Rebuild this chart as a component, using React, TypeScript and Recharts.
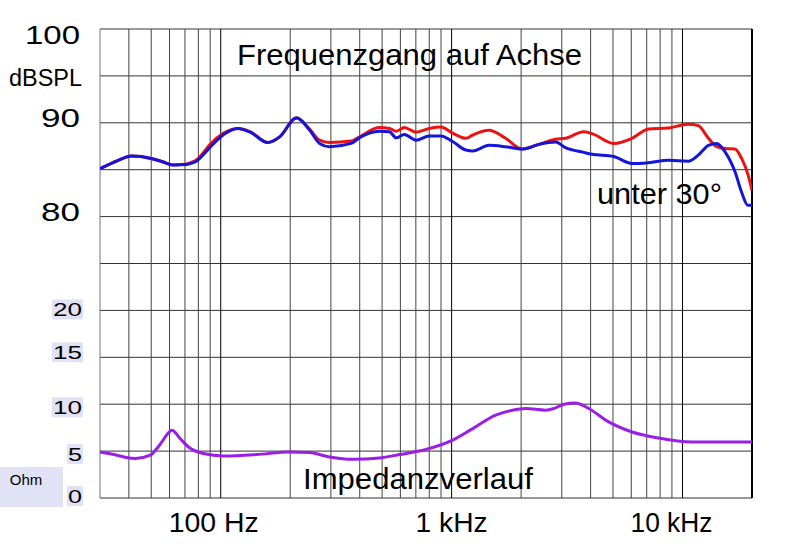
import React from 'react';
import { LineChart, Line, XAxis, YAxis, CartesianGrid, ReferenceLine } from 'recharts';

// Frequenzgang: shared frequency points (Hz)
const freqs = [
  30, 36, 41, 50, 56, 62, 71, 75, 79, 84, 90, 103, 119, 134, 160, 180, 213, 243, 268, 296,
  367, 399, 487, 538, 575, 624, 701, 800, 899, 1010, 1153, 1235, 1452, 1713,
  2023, 2388, 2818, 3112, 3731, 4055, 5033, 6045, 7130, 8693, 10600, 11700,
  12950, 14070, 15280, 16870, 18030, 19200, 20000,
];
// dB SPL on axis (red)
const splOnAxis = [
  85.1, 86.0, 86.45, 86.2, 85.85, 85.5, 85.6, 85.8, 86.1, 86.8, 87.7, 88.9, 89.4, 89.05, 87.9, 88.5, 90.55, 89.3, 88.15, 87.9,
  88.05, 88.5, 89.5, 89.4, 89.1, 89.5, 89.0, 89.4, 89.55, 88.9, 88.35, 88.7, 89.2, 88.35,
  87.2, 87.7, 88.25, 88.35, 89.05, 88.85, 87.8, 88.35, 89.35, 89.45, 89.85, 89.7,
  88.35, 87.45, 87.25, 87.2, 86.2, 84.5, 82.8,
];
// dB SPL at 30 degrees (blue)
const spl30deg = [
  85.1, 86.0, 86.45, 86.2, 85.85, 85.5, 85.55, 85.7, 85.95, 86.6, 87.4, 88.75, 89.4, 89.0, 87.9, 88.5, 90.5, 89.2, 87.8, 87.45,
  87.8, 88.4, 89.1, 89.05, 88.4, 88.75, 88.15, 88.6, 88.6, 88.0, 87.1, 87.0, 87.6, 87.45,
  87.2, 87.7, 87.95, 87.35, 86.85, 86.65, 86.4, 85.65, 85.75, 86.0, 85.9, 86.55,
  87.6, 87.8, 86.9, 84.8, 82.6, 81.2, 81.2,
];

// Impedanzverlauf
const impFreqs = [
  30, 35.6, 39, 42.7, 49.5, 52.9, 55.6, 61.5, 66.7, 72.5, 84, 103, 143, 199, 243, 296, 373,
  487, 595, 774, 993, 1235, 1552, 1833, 2093, 2553, 2775, 3066, 3440, 3924, 4790,
  6045, 7870, 10960, 20000,
];
const impedance = [
  4.9, 4.56, 4.31, 4.2, 4.56, 5.27, 5.98, 7.23, 6.34, 5.44, 4.74, 4.48, 4.63, 4.91, 4.84, 4.38, 4.13,
  4.27, 4.63, 5.17, 6.08, 7.4, 8.83, 9.36, 9.54, 9.36, 9.54, 10.0, 10.14, 9.54, 8.11,
  7.04, 6.4, 5.98, 5.98,
];

const xTicks = [100, 1000, 10000];
const xTickLabels = ['100 Hz', '1 kHz', '10 kHz'];
const gridFreqs = [
  40, 50, 60, 70, 80, 90, 100, 200, 300, 400, 500, 600, 700, 800, 900, 1000,
  2000, 3000, 4000, 5000, 6000, 7000, 8000, 9000, 10000,
];
const yTicks = [0, 5, 10, 15, 20, 25, 30, 35, 40, 45, 50];

const splData = freqs.map((f, i) => ({ f, axis: splOnAxis[i], off: spl30deg[i] }));
const impData = impFreqs.map((f, i) => ({ f, ohm: impedance[i] }));

const FONT = "Arial, 'Liberation Sans', sans-serif";
const LAVENDER = '#e2e2f6';

const XTick = ({ x, payload }: any) => {
  const idx = xTicks.indexOf(payload.value);
  const shift = [-7, 0, -11][idx] ?? 0;
  const widths = [90, 72, 82];
  return (
    <text x={x + shift} y={532} textAnchor="middle" fontFamily={FONT} fontSize={28} fill="#000"
      textLength={widths[idx]} lengthAdjust="spacingAndGlyphs">
      {xTickLabels[idx]}
    </text>
  );
};

const YTick = ({ y, payload }: any) => {
  const v = payload.value;
  if (v <= 20) {
    const centerOff: Record<number, number> = { 20: -1, 15: -5, 10: 3, 5: 3, 0: -2 };
    const cy = y + centerOff[v];
    const wide = v >= 10;
    return (
      <g>
        {v === 0 && (
          <g>
            <rect x={0} y={467} width={63} height={40} fill={LAVENDER} />
            <text x={26} y={485} textAnchor="middle" fontFamily={FONT} fontSize={15} fill="#000">Ohm</text>
          </g>
        )}
        <rect x={wide ? 52 : 67} y={cy - 10} width={wide ? 31 : 16} height={20} fill={LAVENDER} />
        <text x={82} y={cy + 7} textAnchor="end" fontFamily={FONT} fontSize={19} fill="#000"
          textLength={wide ? 29 : 14} lengthAdjust="spacingAndGlyphs">
          {v}
        </text>
      </g>
    );
  }
  if (v === 45) {
    return (
      <text x={82} y={y + 10.5} textAnchor="end" fontFamily={FONT} fontSize={23} fill="#000"
        textLength={73} lengthAdjust="spacingAndGlyphs">dBSPL</text>
    );
  }
  if (v === 30 || v === 40 || v === 50) {
    const label = String(v + 50);
    const dy = v === 50 ? 15 : 4;
    return (
      <text x={80} y={y + dy} textAnchor="end" fontFamily={FONT} fontSize={26} fill="#000"
        textLength={v === 50 ? 55 : 39} lengthAdjust="spacingAndGlyphs">
        {label}
      </text>
    );
  }
  return null;
};

export default function App() {
  return (
    <div style={{ position: 'absolute', left: 0, top: 0, width: 794, height: 559, background: '#fff' }}>
      <LineChart width={794} height={559} margin={{ top: 29, right: 42, bottom: 31, left: 20 }}>
        <CartesianGrid yAxisId="ohm" vertical={false} stroke="#333" strokeWidth={1} />
        <XAxis
          dataKey="f"
          type="number"
          scale="log"
          domain={[30, 20000]}
          allowDataOverflow
          ticks={xTicks}
          tick={<XTick />}
          axisLine={false}
          tickLine={false}
          height={30}
        />
        <YAxis
          yAxisId="ohm"
          type="number"
          domain={[0, 50]}
          ticks={yTicks}
          tick={<YTick />}
          axisLine={false}
          tickLine={false}
          width={80}
          interval={0}
        />
        <YAxis yAxisId="db" type="number" domain={[50, 100]} hide />
        {gridFreqs.map((f) => (
          <ReferenceLine key={f} yAxisId="ohm" x={f} stroke={[100, 1000, 10000].includes(f) ? '#000' : '#444'} strokeWidth={1} />
        ))}
        <ReferenceLine yAxisId="ohm" x={30} stroke="#777" strokeWidth={1} />
        <ReferenceLine yAxisId="ohm" x={20000} stroke="#000" strokeWidth={2} />
        <Line
          yAxisId="db"
          data={splData}
          dataKey="axis"
          type="monotone"
          stroke="#ee1111"
          strokeWidth={3}
          dot={false}
          isAnimationActive={false}
        />
        <Line
          yAxisId="db"
          data={splData}
          dataKey="off"
          type="monotone"
          stroke="#1414dd"
          strokeWidth={3}
          dot={false}
          isAnimationActive={false}
        />
        <Line
          yAxisId="ohm"
          data={impData}
          dataKey="ohm"
          type="monotone"
          stroke="#9a1ee8"
          strokeWidth={3}
          dot={false}
          isAnimationActive={false}
        />
      </LineChart>
      <svg width={794} height={559} style={{ position: 'absolute', left: 0, top: 0, pointerEvents: 'none' }}>
        <text x={237} y={65} fontFamily={FONT} fontSize={30} fill="#000" textLength={345} lengthAdjust="spacingAndGlyphs">
          Frequenzgang auf Achse
        </text>
        <text x={597} y={204} fontFamily={FONT} fontSize={30} fill="#000" textLength={125} lengthAdjust="spacingAndGlyphs">
          unter 30°
        </text>
        <text x={303} y={489} fontFamily={FONT} fontSize={29} fill="#000" textLength={230} lengthAdjust="spacingAndGlyphs">
          Impedanzverlauf
        </text>
      </svg>
    </div>
  );
}
